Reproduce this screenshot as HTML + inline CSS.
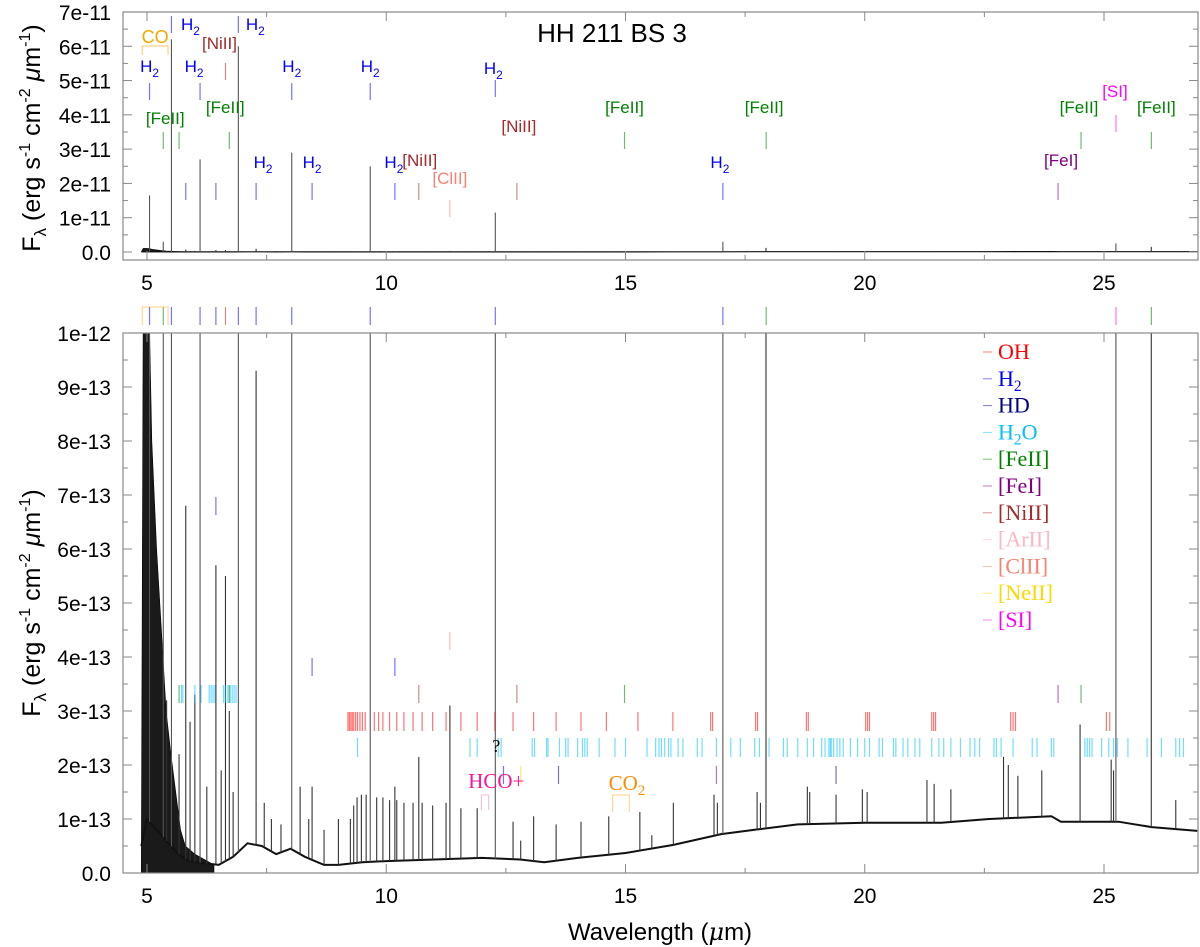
<!DOCTYPE html>
<html><head><meta charset="utf-8"><style>
html,body{margin:0;padding:0;background:#fff;}
svg{display:block;}
text{font-family:"Liberation Sans",sans-serif;}
.ser{font-family:"Liberation Serif",serif;}
</style></head><body>
<svg id="chart" width="1200" height="947" viewBox="0 0 1200 947" xmlns="http://www.w3.org/2000/svg">
<defs>
<clipPath id="clipTop"><rect x="123" y="12" width="1075" height="248"/></clipPath>
<clipPath id="clipBot"><rect x="123" y="333" width="1075" height="540"/></clipPath>
</defs>
<g id="gTop"></g>
<g id="gBot"></g>
<text x="612" y="42" font-size="26" text-anchor="middle">HH 211 BS 3</text>
<text x="660" y="940" font-size="24" text-anchor="middle">Wavelength (<tspan font-family="DejaVu Serif" font-style="italic">μ</tspan>m)</text>
<text transform="translate(40,138) rotate(-90)" font-size="25" text-anchor="middle">F<tspan font-size="17" dy="6">λ</tspan><tspan dy="-6"> (erg s</tspan><tspan font-size="16" dy="-10">-1</tspan><tspan dy="10"> cm</tspan><tspan font-size="16" dy="-10">-2</tspan><tspan dy="10"> </tspan><tspan font-style="italic">μ</tspan><tspan>m</tspan><tspan font-size="16" dy="-10">-1</tspan><tspan dy="10">)</tspan></text>
<text transform="translate(40,603) rotate(-90)" font-size="25" text-anchor="middle">F<tspan font-size="17" dy="6">λ</tspan><tspan dy="-6"> (erg s</tspan><tspan font-size="16" dy="-10">-1</tspan><tspan dy="10"> cm</tspan><tspan font-size="16" dy="-10">-2</tspan><tspan dy="10"> </tspan><tspan font-style="italic">μ</tspan><tspan>m</tspan><tspan font-size="16" dy="-10">-1</tspan><tspan dy="10">)</tspan></text>
</svg>
<script>
// ---- data (flux in units of 1e-13) ----
const contWl = [4.88,5.0,5.3,5.6,5.8,6.0,6.5,6.8,7.1,7.4,7.7,8.0,8.3,8.7,9.0,9.5,10,11,12,12.8,13.3,14,15,16,17,17.7,18.6,20,21.6,22.6,23.9,24.1,25.3,26,26.95];
const contF  = [0.5,1.0,0.7,0.4,0.25,0.2,0.15,0.3,0.55,0.5,0.35,0.45,0.3,0.15,0.15,0.2,0.22,0.25,0.28,0.25,0.2,0.28,0.37,0.52,0.72,0.8,0.9,0.93,0.93,1.0,1.05,0.95,0.95,0.85,0.78];
const forestWl = [4.88,4.92,4.97,5.05,5.1,5.2,5.3,5.4,5.5,5.6,5.7,5.8,6.0,6.2,6.4];
const forestF  = [0,10.5,10.5,10.2,8,6,4.5,3,2.2,1.5,0.8,0.5,0.35,0.25,0.15];
const lineWl = [5.053,5.511,6.109,6.909,8.025,9.665,12.279,17.035,17.936,25.249,25.988,5.34,5.81,6.44,6.64,7.28,6.72,5.67,8.45,10.18,
 5.41,5.9,6.0,6.25,6.55,6.8,7.45,7.6,7.8,8.2,8.38,8.7,9.0,
 9.25,9.32,9.39,9.48,9.58,9.8,9.93,10.07,10.22,10.37,10.56,10.68,10.75,10.97,11.25,11.33,11.56,11.9,12.65,12.81,13.08,13.55,14.07,14.65,15.3,15.55,16.0,16.85,16.92,17.75,17.82,18.8,18.85,19.4,19.95,20.05,21.3,21.45,21.8,22.9,23.0,23.2,23.7,24.5,25.15,25.2,26.5];
const lineF = [165,620,270,600,290,250,115,30,12,25,15,30,6.8,5.7,5.5,9.3,3,2.2,1.6,1.6,
 3.2,2.8,3.3,1.6,1.9,1.5,1.3,1.0,0.9,1.6,1.0,0.8,1.0,
 1.0,1.25,1.4,1.45,1.45,1.4,1.4,1.35,1.35,1.3,1.3,2.15,1.3,1.25,1.3,3.1,1.2,1.2,0.95,0.6,1.05,0.9,0.95,1.05,1.13,0.7,1.3,1.45,1.3,1.5,1.3,1.6,1.5,1.45,1.55,1.5,1.72,1.65,1.55,2.15,2.0,1.8,1.9,2.75,2.1,1.9,1.35];
const xTicks = [5,10,15,20,25];
const topYTicks = [0,1,2,3,4,5,6,7];
const topYLabels = ["0.0","1e-11","2e-11","3e-11","4e-11","5e-11","6e-11","7e-11"];
const botYTicks = [0,1,2,3,4,5,6,7,8,9,10];
const botYLabels = ["0.0","1e-13","2e-13","3e-13","4e-13","5e-13","6e-13","7e-13","8e-13","9e-13","1e-12"];
const ohWl = [9.2,9.23,9.26,9.29,9.32,9.36,9.4,9.45,9.5,9.56,9.75,9.84,9.93,10.07,10.22,10.37,10.56,10.75,10.97,11.25,11.56,11.9,12.27,12.65,13.08,13.55,14.07,14.6,15.26,15.99,16.78,16.82,17.72,17.76,18.78,18.82,20.02,20.06,20.1,21.4,21.44,21.48,23.05,23.1,23.15,25.05,25.12];
const h2oWl1 = [5.72,5.75,6.0,6.13,6.3,6.34,6.38,6.42,6.6,6.64,6.69,6.74,6.78,6.82,6.86];
const h2oWl2 = [9.4,11.75,11.9,12.34,12.4,13.05,13.1,13.35,13.38,13.62,13.75,13.8,14.0,14.1,14.15,14.2,14.45,14.78,15.0,15.45,15.63,15.7,15.75,15.82,15.9,15.95,16.1,16.2,16.5,16.6,16.9,17.2,17.4,17.7,17.8,18.0,18.3,18.38,18.6,18.8,18.93,19.1,19.17,19.25,19.28,19.3,19.35,19.42,19.48,19.55,19.7,19.85,20.0,20.1,20.3,20.37,20.6,20.65,20.8,20.9,21.05,21.15,21.4,21.55,21.65,21.8,22.0,22.2,22.3,22.4,22.7,22.75,22.85,23.1,23.5,23.6,23.9,23.95,24.6,24.65,24.7,24.75,24.95,25.1,25.2,25.28,25.5,25.9,26.2,26.5,26.58,26.66];
const legendNames = ["OH","H2","HD","H2O","[FeII]","[FeI]","[NiII]","[ArII]","[ClII]","[NeII]","[SI]"];
const legendColors = ["#ff0000","#0000ff","#000080","#00bfff","#008000","#800080","#a52a2a","#ffb6c1","#fa8072","#ffd700","#ff00ff"];
const annWl = [5.053,5.511,6.109,6.909,6.64,5.34,5.67,6.72,8.025,9.665,5.81,6.44,7.28,8.45,10.18,10.68,11.33,12.279,12.73,14.98,17.035,17.94,24.04,24.52,25.25,25.99];
const annSp = ["H2","H2","H2","H2","[NiII]","[FeII]","[FeII]","[FeII]","H2","H2","H2","H2","H2","H2","H2","[NiII]","[ClII]","H2","[NiII]","[FeII]","H2","[FeII]","[FeI]","[FeII]","[SI]","[FeII]"];

const NS="http://www.w3.org/2000/svg";
const X = l => 147 + (l-5)*47.85;
const YT = f => 252 - f*34.29;          // f in 1e-11
const YB = f => 873 - f*54;             // f in 1e-13
const colorOf = sp => legendColors[legendNames.indexOf(sp)];
function mk(parent, tag, attrs){ const e=document.createElementNS(NS,tag); for(const k in attrs) e.setAttribute(k,attrs[k]); parent.appendChild(e); return e; }
function interp(wl, xs, ys){ if(wl<=xs[0]) return ys[0]; for(let i=1;i<xs.length;i++){ if(wl<=xs[i]){ const t=(wl-xs[i-1])/(xs[i]-xs[i-1]); return ys[i-1]+t*(ys[i]-ys[i-1]); } } return ys[ys.length-1]; }

function drawSpectrum(g, Y, clip, scale){
  const s = mk(g,'g',{'clip-path':'url(#'+clip+')'});
  
  
  let d='M'+X(forestWl[0])+','+Y(0);
  forestWl.forEach((w,i)=>{ d+=' L'+X(w).toFixed(1)+','+Y(forestF[i]*scale).toFixed(1); });
  d+=' L'+X(forestWl[forestWl.length-1])+','+Y(0)+' Z';
  const f=mk(s,'path',{d:d,fill:'#1a1a1a',stroke:'#000','stroke-width':0.6});
  
  
  let c='';
  contWl.forEach((w,i)=>{ c+=(i?' L':'M')+X(w).toFixed(1)+','+Y(contF[i]*scale).toFixed(1); });
  const cp=mk(s,'path',{d:c,fill:'none',stroke:'#111','stroke-width':scale<1?1.2:2});
  
  
  lineWl.forEach((w,i)=>{
    const base=interp(w,contWl,contF);
    const ln=mk(s,'line',{x1:X(w),x2:X(w),y1:Y(base*scale),y2:Y(lineF[i]*scale),stroke:lineF[i]>20?'#555':'#333','stroke-width':1.1});
    
    
  });
}

function drawAxes(g, top, bot, yTicks, yLabels, Y, minorStep){
  const box=mk(g,'rect',{x:123,y:top,width:1075,height:bot-top,fill:'none',stroke:'#888','stroke-width':1.2});
  
  
  for(let l=5;l<=27;l+=2.5){
    const maj = xTicks.includes(l);
    const len = maj?9:5;
    mk(g,'line',{x1:X(l),x2:X(l),y1:bot,y2:bot-len,stroke:'#888'});
    mk(g,'line',{x1:X(l),x2:X(l),y1:top,y2:top+len,stroke:'#888'});
  }
  xTicks.forEach(l=>{
    const t=mk(g,'text',{x:X(l),y:bot+30,'font-size':21,'text-anchor':'middle'});
    t.textContent=l;
    
    
  });
  yTicks.forEach((v,i)=>{
    const y=Y(v);
    mk(g,'line',{x1:123,x2:132,y1:y,y2:y,stroke:'#888'});
    mk(g,'line',{x1:1198,x2:1189,y1:y,y2:y,stroke:'#888'});
    const ym=Y(v+minorStep);
    if(ym>top+1){ mk(g,'line',{x1:123,x2:128,y1:ym,y2:ym,stroke:'#888'}); mk(g,'line',{x1:1198,x2:1193,y1:ym,y2:ym,stroke:'#888'}); }
    const t=mk(g,'text',{x:111,y:y+8,'font-size':21,'text-anchor':'end'});
    t.textContent=yLabels[i];
    
    
  });
}

function tick(g, wl, y1, y2, color, name){
  const t=mk(g,'line',{x1:X(wl),x2:X(wl),y1:y1,y2:y2,stroke:color,'stroke-width':1.2,'stroke-opacity':0.55});
  
  
}
function label(g, x, y, txt, color, size, serif, name){
  const t=mk(g,'text',{x:x,y:y,'font-size':size,fill:color,'text-anchor':'middle'});
  if(serif) t.setAttribute('class','ser');
  const m=txt.match(/^(H|CO)2(O?)$/);
  if(m){ t.appendChild(document.createTextNode(m[1])); const s=mk(t,'tspan',{'font-size':size*0.7,dy:5}); s.textContent='2'; if(m[2]){ const o=mk(t,'tspan',{dy:-5}); o.textContent=m[2]; } }
  else t.textContent=txt;
  
  
  return t;
}

// ---------- TOP PANEL ----------
const gT=document.getElementById('gTop');
drawSpectrum(gT, YT, 'clipTop', 0.01);
drawAxes(gT, 12, 260, topYTicks, topYLabels, YT, 0.5);
const annRow = [83,16,83,16,63,132,132,132,83,83,183,183,183,183,183,183,200,80,183,132,183,132,183,132,115,132];
const annLab = [[0,72],[19,30],[-6,72],[17,30],[-6,49],[2,124],[null,0],[-4,113],[0,72],[0,72],[null,0],[null,0],[7,168],[0,168],[-1,168],[1,166],[0,184],[-2,74],[2,132],[0,113],[-3,168],[-2,113],[3,166],[-2,113],[-1,97],[5,113]];
const annLabelText = ["H2","H2","H2","H2","[NiII]","[FeII]","","[FeII]","H2","H2","","","H2","H2","H2","[NiII]","[ClII]","H2","[NiII]","[FeII]","H2","[FeII]","[FeI]","[FeII]","[SI]","[FeII]"];
annWl.forEach((w,i)=>{
  const col=colorOf(annSp[i]);
  tick(gT,w,annRow[i],annRow[i]+17,col,'line-marker');
  const L=annLab[i];
  if(annLabelText[i]) label(gT,X(w)+L[0],L[1],annLabelText[i],col,17,false,'line-label');
});
mk(gT,'path',{d:'M'+X(4.9)+',55 V46 H'+X(5.44)+' V55',fill:'none',stroke:'#ffa500','stroke-opacity':0.6});
label(gT,X(5.17),43,'CO','#ffa500',18,false,'co-label');

// ---------- BOTTOM PANEL ----------
const gB=document.getElementById('gBot');
drawSpectrum(gB, YB, 'clipBot', 1);
drawAxes(gB, 333, 873, botYTicks, botYLabels, YB, 0.5);
annWl.forEach((w,i)=>{ if(annSp[i]!=='[FeI]' && annSp[i]!=='[ClII]' && !(annSp[i]==='[NiII]' && w>10) && w!==24.52 && w!==14.98 && w!==10.18 && w!==8.45 && w!==5.81 && w!==5.67 && w!==6.72) tick(gB,w,307,325,colorOf(annSp[i]),'line-marker'); });
mk(gB,'path',{d:'M'+X(4.9)+',325 V307 H'+X(5.44)+' V325',fill:'none',stroke:'#ffa500','stroke-opacity':0.5});
tick(gB,6.44,497,515,colorOf('H2'),'line-marker');
tick(gB,8.45,658,676,colorOf('H2'),'line-marker');
tick(gB,10.18,658,676,colorOf('H2'),'line-marker');
tick(gB,11.33,632,650,colorOf('[ClII]'),'line-marker');
tick(gB,10.68,685,703,colorOf('[NiII]'),'line-marker');
tick(gB,12.73,685,703,colorOf('[NiII]'),'line-marker');
tick(gB,14.98,685,703,colorOf('[FeII]'),'line-marker');
tick(gB,24.04,685,703,colorOf('[FeI]'),'line-marker');
tick(gB,24.52,685,703,colorOf('[FeII]'),'line-marker');
tick(gB,5.67,685,703,colorOf('[FeII]'),'line-marker');
tick(gB,6.72,685,703,colorOf('[FeII]'),'line-marker');
tick(gB,12.81,766,784,colorOf('[NeII]'),'line-marker');
tick(gB,12.45,766,784,colorOf('H2'),'line-marker');
tick(gB,13.6,766,784,colorOf('HD'),'line-marker');
tick(gB,16.9,766,784,colorOf('[FeI]'),'line-marker');
tick(gB,19.4,766,784,colorOf('HD'),'line-marker');
ohWl.forEach(w=>tick(gB,w,712,731,'#ff0000','oh-marker'));
h2oWl1.forEach(w=>tick(gB,w,685,703,'#00bfff','h2o-marker'));
h2oWl2.forEach(w=>tick(gB,w,738,757,'#00bfff','h2o-marker'));
const q=mk(gB,'text',{x:X(12.3),y:752,'font-size':18,'text-anchor':'middle',class:'ser'}); q.textContent='?';


label(gB,X(12.3),788,'HCO+','#ff1493',21,true,'hco-label');
mk(gB,'path',{d:'M'+X(11.99)+',810 V795 H'+X(12.14)+' V810',fill:'none',stroke:'#ff69b4','stroke-opacity':0.5});
label(gB,X(15.03),790,'CO2','#ff8c00',21,true,'co2-label');
mk(gB,'path',{d:'M'+X(14.73)+',812 V795 H'+X(15.08)+' V812',fill:'none',stroke:'#ffa500','stroke-opacity':0.5});
legendNames.forEach((n,i)=>{
  const y=352+i*26.8;
  const g=mk(gB,'g',{});
  
  
  mk(g,'line',{x1:983,x2:992,y1:y,y2:y,stroke:legendColors[i],'stroke-opacity':0.5});
  const t=label(g,998,y+7,n,legendColors[i],22,true,'legend-label');
  t.setAttribute('text-anchor','start');
});
</script>
</body></html>
